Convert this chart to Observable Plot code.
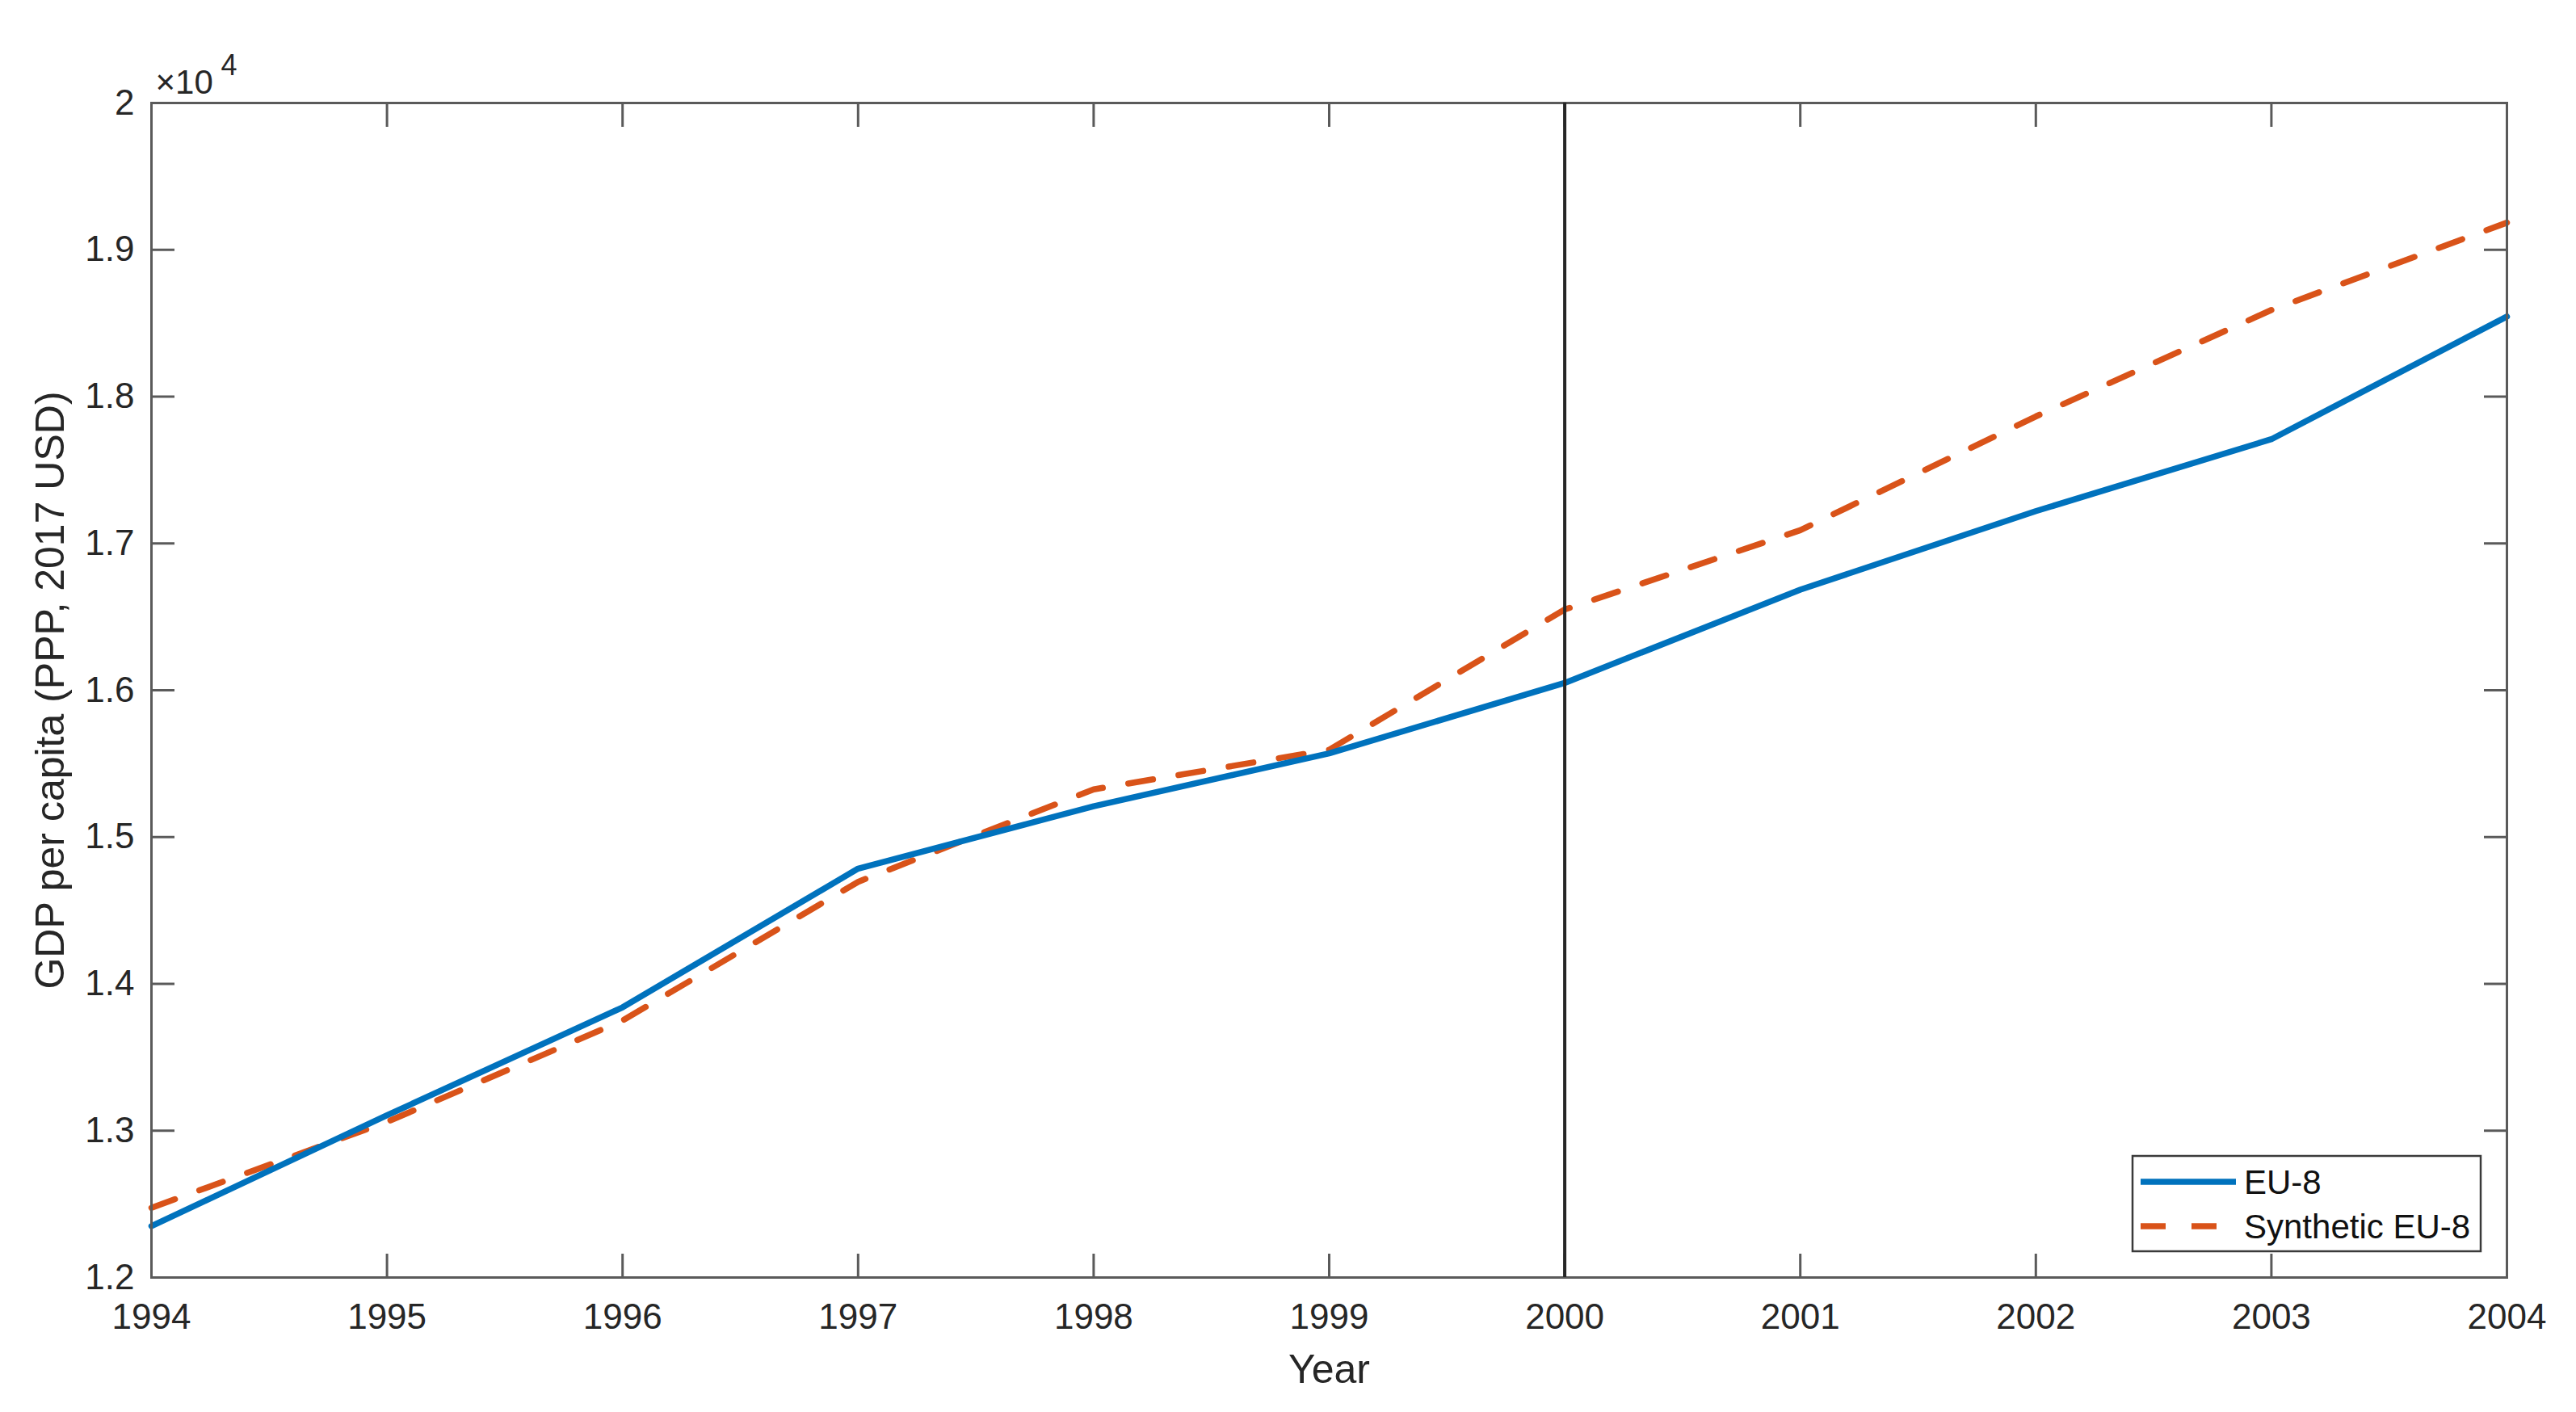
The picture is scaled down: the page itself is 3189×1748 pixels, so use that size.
<!DOCTYPE html>
<html>
<head>
<meta charset="utf-8">
<script src="https://cdn.jsdelivr.net/npm/d3@7"></script>
<script src="https://cdn.jsdelivr.net/npm/@observablehq/plot@0.6"></script>
<style>
  html, body { margin: 0; padding: 0; background: #ffffff; }
  #chart { width: 3189px; height: 1748px; }
</style>
</head>
<body>
<div id="chart"></div>
<script>
// ---- Data ----
const years = [1994, 1995, 1996, 1997, 1998, 1999, 2000, 2001, 2002, 2003, 2004];
const eu8 = [12350, 13105, 13840, 14785, 15210, 15570, 16050, 16685, 17220, 17710, 18545];
const syntheticEu8 = [12475, 13060, 13750, 14695, 15325, 15595, 16550, 17090, 17865, 18590, 19185];
const seriesNames = ["EU-8", "Synthetic EU-8"];
const yTickValues = [12000, 13000, 14000, 15000, 16000, 17000, 18000, 19000, 20000];
const yTickLabels = ["1.2", "1.3", "1.4", "1.5", "1.6", "1.7", "1.8", "1.9", "2"];
const xTickLabels = ["1994", "1995", "1996", "1997", "1998", "1999", "2000", "2001", "2002", "2003", "2004"];
const interventionYear = [2000];
const xLabel = "Year";
const yLabel = "GDP per capita (PPP, 2017 USD)";
const exponentBase = "×10";
const exponentPower = "4";

// ---- Styles ----
const font = "'Liberation Sans', Arial, Helvetica, sans-serif";
const axisColor = "#5a5a5a";
const textColor = "#262626";
const blue = "#0072BD";
const orange = "#D95319";
const dash = "31,32";

const rowsEU = years.map((y, i) => ({year: y, value: eu8[i], series: seriesNames[0]}));
const rowsSyn = years.map((y, i) => ({year: y, value: syntheticEu8[i], series: seriesNames[1]}));

const chart = Plot.plot({
  width: 3189,
  height: 1748,
  marginLeft: 187,
  marginRight: 86,
  marginTop: 127,
  marginBottom: 167,
  style: {fontFamily: font, fontSize: "44px", background: "#ffffff", color: textColor, overflow: "visible"},
  x: {domain: [1994, 2004]},
  y: {domain: [12000, 20000]},
  marks: [
    Plot.line(rowsSyn, {x: "year", y: "value", stroke: orange, strokeWidth: 7.5, strokeDasharray: dash}),
    Plot.line(rowsEU, {x: "year", y: "value", stroke: blue, strokeWidth: 7.5}),
    Plot.frame({stroke: axisColor, strokeWidth: 3}),
    Plot.axisX(years, {
      anchor: "bottom", tickSize: -29, tickPadding: 61,
      tickFormat: d => xTickLabels[years.indexOf(d)],
      stroke: axisColor, strokeWidth: 3, fill: textColor, fontSize: 44, label: null
    }),
    Plot.axisX(years, {anchor: "top", tickSize: -29, stroke: axisColor, strokeWidth: 3, fill: "none", label: null}),
    Plot.axisY(yTickValues, {
      anchor: "left", tickSize: -29, tickPadding: 50,
      tickFormat: d => yTickLabels[yTickValues.indexOf(d)],
      stroke: axisColor, strokeWidth: 3, fill: textColor, fontSize: 44, label: null
    }),
    Plot.axisY(yTickValues, {anchor: "right", tickSize: -29, stroke: axisColor, strokeWidth: 3, fill: "none", label: null}),
    Plot.ruleX(interventionYear, {stroke: "#262626", strokeWidth: 4}),
    Plot.text([xLabel], {text: d => d, frameAnchor: "bottom", dy: 130, textAnchor: "middle", lineAnchor: "bottom", fontSize: 50, fill: textColor}),
    Plot.text([yLabel], {text: d => d, frameAnchor: "left", dx: -109, rotate: -90, textAnchor: "middle", lineAnchor: "bottom", fontSize: 50, fill: textColor}),
    Plot.text([exponentBase], {text: d => d, frameAnchor: "top-left", dx: 5, dy: -12, textAnchor: "start", lineAnchor: "bottom", fontSize: 42, fill: textColor}),
    Plot.text([exponentPower], {text: d => d, frameAnchor: "top-left", dx: 86, dy: -35, textAnchor: "start", lineAnchor: "bottom", fontSize: 36, fill: textColor})
  ]
});

// ---- Legend (inside the axes, lower right) ----
const legendLayout = {x: 2640, y: 1431, w: 431, h: 118, swatchX1: 2650, swatchX2: 2768, textX: 2778, rows: [1463, 1518]};
const svg = d3.select(chart);
const lg = svg.append("g")
  .attr("font-family", font)
  .attr("font-size", 42)
  .attr("text-anchor", "start");
lg.append("rect")
  .attr("x", legendLayout.x).attr("y", legendLayout.y)
  .attr("width", legendLayout.w).attr("height", legendLayout.h)
  .attr("fill", "#ffffff").attr("stroke", "#3a3a3a").attr("stroke-width", 2.5);
const legendStyles = [{stroke: blue, dash: null}, {stroke: orange, dash: dash}];
seriesNames.forEach((name, i) => {
  const yy = legendLayout.rows[i];
  const ln = lg.append("line")
    .attr("x1", legendLayout.swatchX1).attr("x2", legendLayout.swatchX2)
    .attr("y1", yy).attr("y2", yy)
    .attr("stroke", legendStyles[i].stroke).attr("stroke-width", 7.5);
  if (legendStyles[i].dash) ln.attr("stroke-dasharray", legendStyles[i].dash);
  lg.append("text")
    .attr("x", legendLayout.textX).attr("y", yy + 15)
    .attr("text-anchor", "start")
    .attr("fill", "#111111")
    .text(name);
});

document.getElementById("chart").appendChild(chart);
</script>
</body>
</html>
